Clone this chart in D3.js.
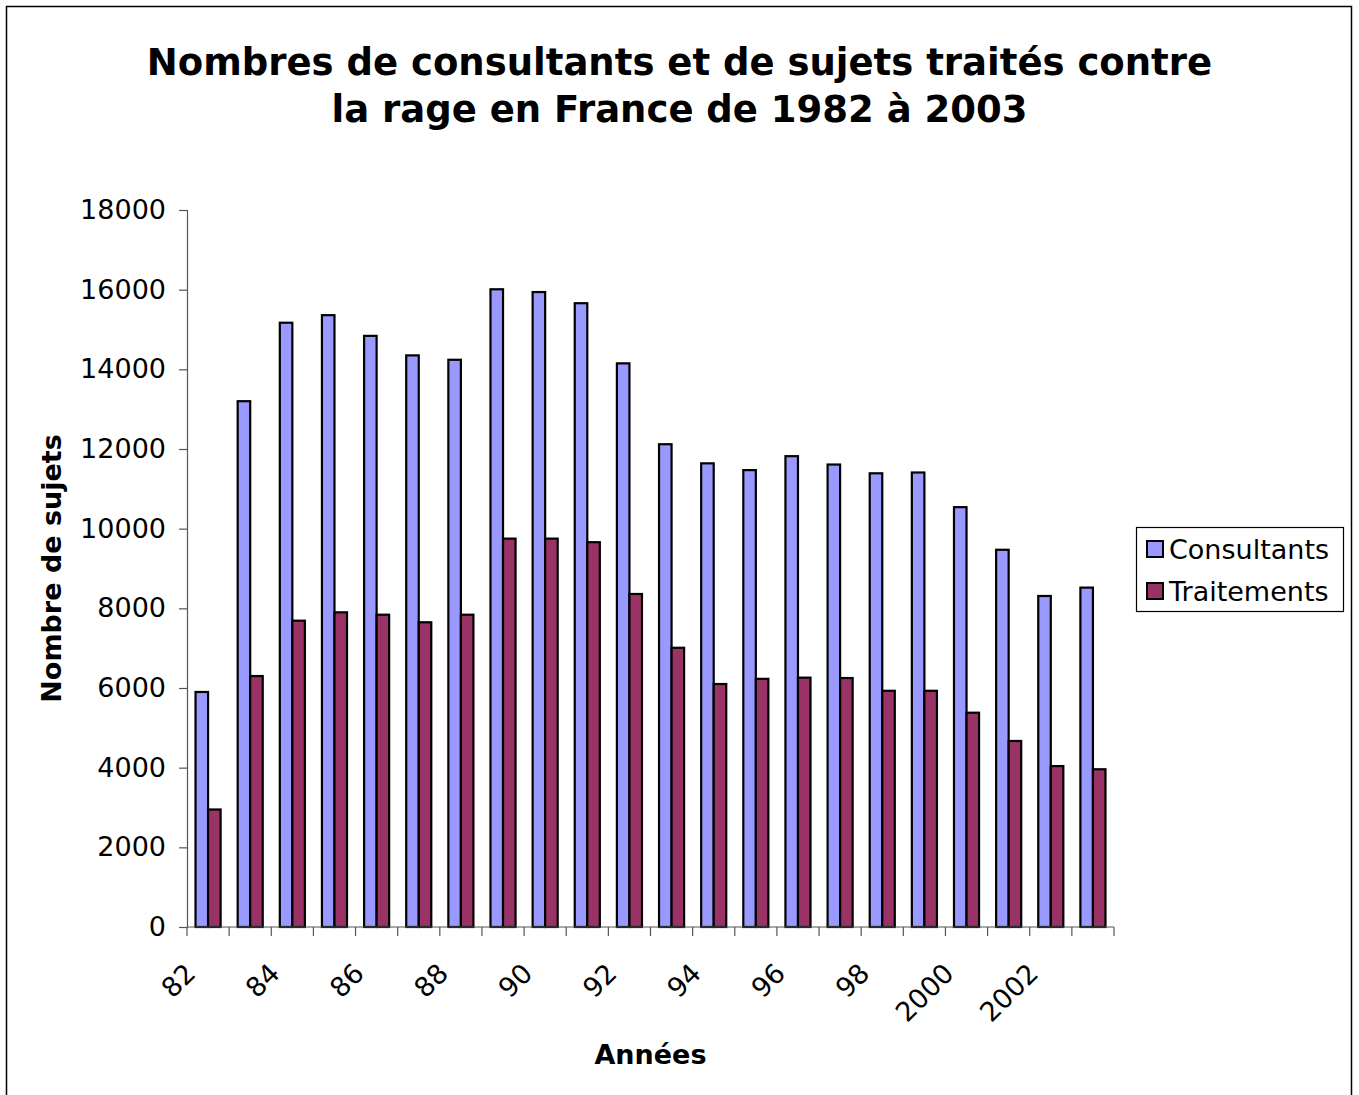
<!DOCTYPE html>
<html>
<head>
<meta charset="utf-8">
<script src="https://cdn.jsdelivr.net/npm/d3@7"></script>
<style>
  body { margin: 0; background: #fff; }
  svg { display: block; }
</style>
</head>
<body>
<svg></svg>
<script>
// year categories (tick labels every second one)
const years = ["82", "83", "84", "85", "86", "87", "88", "89", "90", "91", "92",
  "93", "94", "95", "96", "97", "98", "99", "2000", "2001", "2002", "2003"];
const consultants = [5900, 13200, 15170, 15360, 14840, 14350, 14240, 16010, 15940, 15660, 14150,
  12120, 11640, 11470, 11820, 11610, 11390, 11410, 10540, 9470, 8310, 8520];
const traitements = [2950, 6300, 7690, 7900, 7840, 7650, 7840, 9750, 9750, 9660, 8360,
  7010, 6100, 6230, 6260, 6250, 5930, 5930, 5380, 4670, 4040, 3960];
const seriesNames = ["Consultants", "Traitements"];
const colors = ["#9999ff", "#993366"];
const yTicks = [0, 2000, 4000, 6000, 8000, 10000, 12000, 14000, 16000, 18000];

const width = 1359, height = 1095;
const plot = { left: 187, right: 1114, top: 210, bottom: 927 };
const font = "'DejaVu Sans', Verdana, sans-serif";

const svg = d3.select("svg")
  .attr("width", width)
  .attr("height", height)
  .style("font-family", font);

// outer frame
svg.append("rect")
  .attr("x", 6.5).attr("y", 6.5)
  .attr("width", 1345).attr("height", 1100)
  .attr("fill", "#fff")
  .attr("stroke", "#000")
  .attr("stroke-width", 1.5);

// title
const title = svg.append("text")
  .attr("x", 679.5)
  .attr("text-anchor", "middle")
  .attr("font-size", "37px")
  .attr("font-weight", "bold");
title.append("tspan").attr("x", 679.5).attr("y", 75).text("Nombres de consultants et de sujets traités contre");
title.append("tspan").attr("x", 679.5).attr("y", 122).text("la rage en France de 1982 à 2003");

const x0 = d3.scaleBand()
  .domain(years)
  .range([plot.left, plot.right])
  .padding(0);

const groupW = x0.bandwidth() * 0.595;
const x1 = d3.scaleBand()
  .domain(seriesNames)
  .range([0, groupW]);

const y = d3.scaleLinear()
  .domain([0, 18000])
  .range([plot.bottom, plot.top]);

const rows = years.map((yr, i) => ({ year: yr, values: [consultants[i], traitements[i]] }));

// bars
const groups = svg.selectAll(".grp")
  .data(rows)
  .join("g")
  .attr("class", "grp")
  .attr("transform", d => `translate(${x0(d.year) + (x0.bandwidth() - groupW) / 2},0)`);

groups.selectAll("rect")
  .data(d => d.values.map((v, k) => ({ key: seriesNames[k], v, k })))
  .join("rect")
  .attr("x", d => x1(d.key))
  .attr("y", d => y(d.v))
  .attr("width", x1.bandwidth())
  .attr("height", d => y(0) - y(d.v))
  .attr("fill", d => colors[d.k])
  .attr("stroke", "#000")
  .attr("stroke-width", 2.2);

// y axis
const yAxis = d3.axisLeft(y)
  .tickValues(yTicks)
  .tickFormat(d3.format("d"))
  .tickSize(8)
  .tickPadding(13);

const gy = svg.append("g")
  .attr("transform", `translate(${plot.left},0)`)
  .call(yAxis);
gy.select(".domain").attr("stroke", "#555").attr("stroke-width", 1.2);
gy.selectAll(".tick line").attr("stroke", "#555").attr("stroke-width", 1.2);
gy.selectAll(".tick text")
  .attr("font-family", font)
  .attr("font-size", "27px")
  .attr("fill", "#000");

// x axis line and ticks at category boundaries
svg.append("line")
  .attr("x1", plot.left).attr("x2", plot.right)
  .attr("y1", plot.bottom).attr("y2", plot.bottom)
  .attr("stroke", "#555").attr("stroke-width", 1.2);

svg.selectAll(".xtick")
  .data(years.concat(["end"]))
  .join("line")
  .attr("class", "xtick")
  .attr("x1", d => d === "end" ? plot.right : x0(d))
  .attr("x2", d => d === "end" ? plot.right : x0(d))
  .attr("y1", plot.bottom)
  .attr("y2", plot.bottom + 9)
  .attr("stroke", "#555").attr("stroke-width", 1.2);

// x labels, one every two years, rotated
svg.selectAll(".xlabel")
  .data(years.filter((d, i) => i % 2 === 0))
  .join("text")
  .attr("class", "xlabel")
  .attr("transform", d => `translate(${x0(d) + x0.bandwidth() / 2 - 11},975) rotate(-45)`)
  .attr("text-anchor", "end")
  .attr("font-size", "27px")
  .text(d => d);

// axis titles
svg.append("text")
  .attr("x", (plot.left + plot.right) / 2)
  .attr("y", 1064)
  .attr("text-anchor", "middle")
  .attr("font-size", "27px")
  .attr("font-weight", "bold")
  .text("Années");

svg.append("text")
  .attr("transform", `translate(61,${(plot.top + plot.bottom) / 2}) rotate(-90)`)
  .attr("text-anchor", "middle")
  .attr("font-size", "27px")
  .attr("font-weight", "bold")
  .text("Nombre de sujets");

// legend
const legend = svg.append("g").attr("transform", "translate(1136,527)");
legend.append("rect")
  .attr("x", 0.5).attr("y", 0.5)
  .attr("width", 207).attr("height", 84)
  .attr("fill", "#fff")
  .attr("stroke", "#000")
  .attr("stroke-width", 1.2);

const items = legend.selectAll(".item")
  .data(seriesNames)
  .join("g")
  .attr("class", "item")
  .attr("transform", (d, i) => `translate(0,${22 + i * 42})`);

items.append("rect")
  .attr("x", 11).attr("y", -8)
  .attr("width", 16).attr("height", 16)
  .attr("fill", (d, i) => colors[i])
  .attr("stroke", "#000")
  .attr("stroke-width", 2);

items.append("text")
  .attr("x", 33)
  .attr("y", 10)
  .attr("font-size", "27px")
  .text(d => d);
</script>
</body>
</html>
